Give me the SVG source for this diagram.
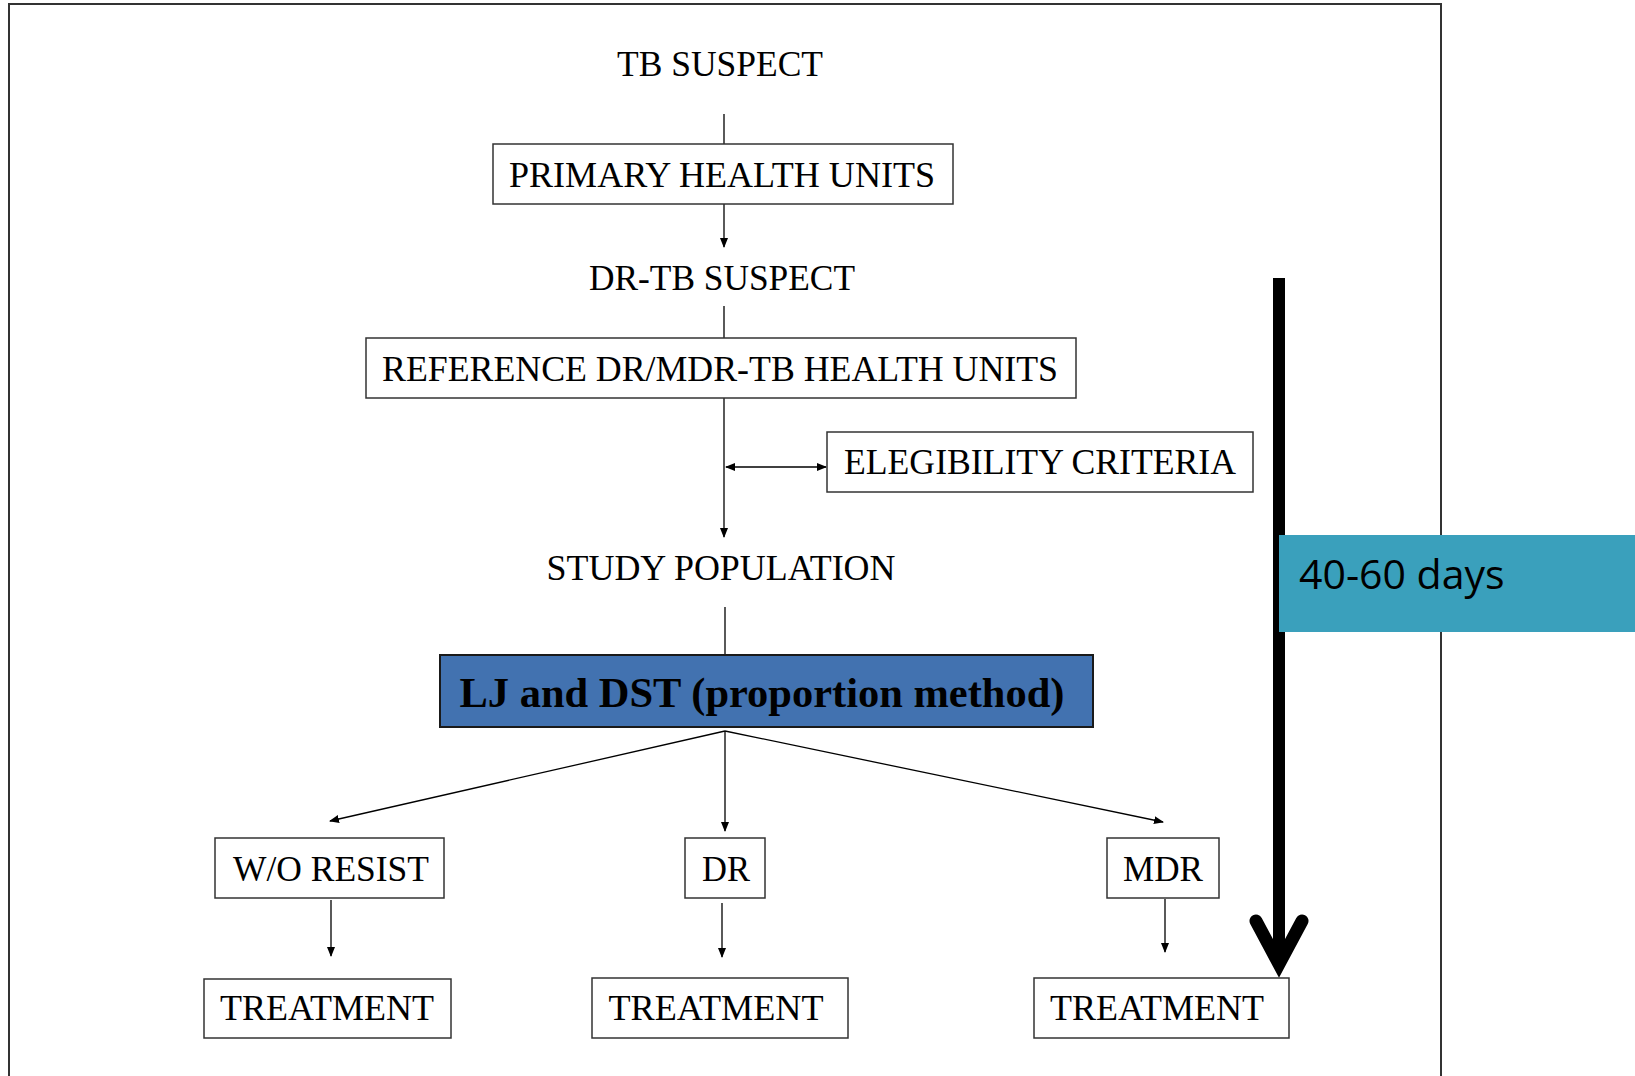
<svg xmlns="http://www.w3.org/2000/svg" width="1635" height="1076" viewBox="0 0 1635 1076">
<style>
.t{font-family:"Liberation Serif","Times New Roman",serif;font-size:35px;fill:#000;text-anchor:middle}
.b{fill:#fff;stroke:#333;stroke-width:1.5}
.c{stroke:#000;stroke-width:1.3;fill:none}
</style>
<defs>
<marker id="ah" markerWidth="10" markerHeight="14" refX="9" refY="5" orient="auto" markerUnits="userSpaceOnUse">
<path d="M0,1 L10,5 L0,9 Z" fill="#000"/>
</marker>
<marker id="as" markerWidth="10" markerHeight="14" refX="1" refY="5" orient="auto" markerUnits="userSpaceOnUse">
<path d="M10,1 L0,5 L10,9 Z" fill="#000"/>
</marker>
</defs>
<rect width="1635" height="1076" fill="#fff"/>
<path d="M9,1076 V4 H1441 V1076" fill="none" stroke="#333" stroke-width="2"/>

<g id="connectors">
<line class="c" x1="724" y1="114" x2="724" y2="144"/>
<line class="c" x1="724" y1="204" x2="724" y2="247" marker-end="url(#ah)"/>
<line class="c" x1="724" y1="306" x2="724" y2="338"/>
<line class="c" x1="724" y1="398" x2="724" y2="537" marker-end="url(#ah)"/>
<line class="c" x1="726" y1="467" x2="826" y2="467" marker-start="url(#as)" marker-end="url(#ah)"/>
<line class="c" x1="725" y1="607" x2="725" y2="655"/>
<line class="c" x1="725" y1="731" x2="330" y2="821" marker-end="url(#ah)"/>
<line class="c" x1="725" y1="731" x2="725" y2="831" marker-end="url(#ah)"/>
<line class="c" x1="725" y1="731" x2="1163" y2="822" marker-end="url(#ah)"/>
<line class="c" x1="331" y1="900" x2="331" y2="956" marker-end="url(#ah)"/>
<line class="c" x1="722" y1="903" x2="722" y2="957" marker-end="url(#ah)"/>
<line class="c" x1="1165" y1="899" x2="1165" y2="952" marker-end="url(#ah)"/>
</g>

<g id="timeline">
<line x1="1279" y1="278" x2="1279" y2="962" stroke="#000" stroke-width="12"/>
<polyline points="1256,921 1279,964 1302,921" fill="none" stroke="#000" stroke-width="13" stroke-linecap="round" stroke-linejoin="miter"/>
</g>

<g id="tb-suspect"><text class="t" x="720" y="76" textLength="206" lengthAdjust="spacingAndGlyphs">TB SUSPECT</text></g>
<g id="primary"><rect class="b" x="493" y="144" width="460" height="60"/><text class="t" x="722" y="187" textLength="426" lengthAdjust="spacingAndGlyphs">PRIMARY HEALTH UNITS</text></g>
<g id="drtb-suspect"><text class="t" x="722" y="290" textLength="266" lengthAdjust="spacingAndGlyphs">DR-TB SUSPECT</text></g>
<g id="reference"><rect class="b" x="366" y="338" width="710" height="60"/><text class="t" x="720" y="381" textLength="676" lengthAdjust="spacingAndGlyphs">REFERENCE DR/MDR-TB HEALTH UNITS</text></g>
<g id="elegibility"><rect class="b" x="827" y="432" width="426" height="60"/><text class="t" x="1040" y="474" textLength="392" lengthAdjust="spacingAndGlyphs">ELEGIBILITY CRITERIA</text></g>
<g id="study-population"><text class="t" x="721" y="580" textLength="349" lengthAdjust="spacingAndGlyphs">STUDY POPULATION</text></g>
<g id="lj-dst"><rect x="440" y="655" width="653" height="72" fill="#4272B0" stroke="#1a1a1a" stroke-width="2"/><text class="t" x="762" y="707" style="font-weight:bold;font-size:43px" textLength="605" lengthAdjust="spacingAndGlyphs">LJ and DST (proportion method)</text></g>
<g id="wo-resist"><rect class="b" x="215" y="838" width="229" height="60"/><text class="t" x="331" y="881" textLength="196" lengthAdjust="spacingAndGlyphs">W/O RESIST</text></g>
<g id="dr"><rect class="b" x="685" y="838" width="80" height="60"/><text class="t" x="726" y="881" textLength="48" lengthAdjust="spacingAndGlyphs">DR</text></g>
<g id="mdr"><rect class="b" x="1107" y="838" width="112" height="60"/><text class="t" x="1163" y="881" textLength="80" lengthAdjust="spacingAndGlyphs">MDR</text></g>
<g id="treatment-1"><rect class="b" x="204" y="979" width="247" height="59"/><text class="t" x="327" y="1020" textLength="214" lengthAdjust="spacingAndGlyphs">TREATMENT</text></g>
<g id="treatment-2"><rect class="b" x="592" y="978" width="256" height="60"/><text class="t" x="716" y="1020" textLength="215" lengthAdjust="spacingAndGlyphs">TREATMENT</text></g>
<g id="treatment-3"><rect class="b" x="1034" y="978" width="255" height="60"/><text class="t" x="1157" y="1020" textLength="214" lengthAdjust="spacingAndGlyphs">TREATMENT</text></g>

<g id="duration"><rect x="1279" y="535" width="356" height="97" fill="#3AA0BC"/><text x="1299" y="589" style="font-family:'Open Sans','Liberation Sans',sans-serif;font-size:41px;fill:#000">40-60 days</text></g>
</svg>
